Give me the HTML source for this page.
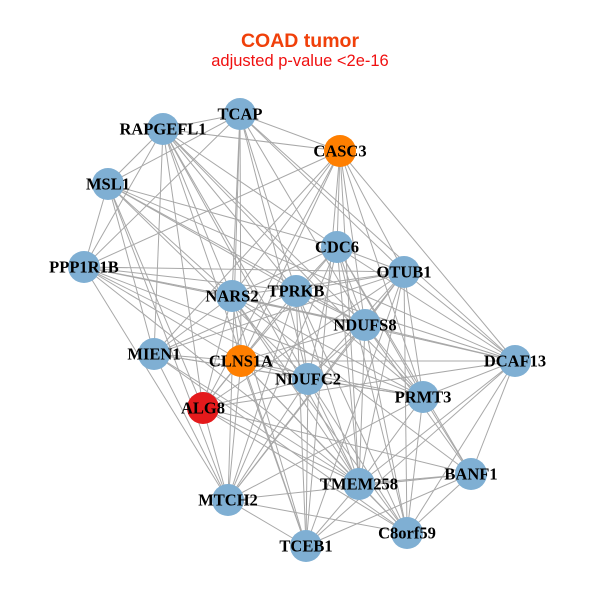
<!DOCTYPE html>
<html><head><style>
body{margin:0;background:#fff;width:600px;height:600px;overflow:hidden}
svg text.l{font-family:"Liberation Serif",serif;font-weight:bold;font-size:16.5px;fill:#000;text-anchor:middle;dominant-baseline:central}
</style></head><body>
<svg id="s" width="600" height="600" viewBox="0 0 600 600" xmlns="http://www.w3.org/2000/svg">
<text x="300" y="47" text-anchor="middle" font-family="Liberation Sans,sans-serif" font-weight="bold" font-size="19.5" fill="#f0400a">COAD tumor</text>
<text x="300" y="66" text-anchor="middle" font-family="Liberation Sans,sans-serif" font-size="16.5" fill="#f01010">adjusted p-value &lt;2e-16</text>
<g id="e" stroke="#a8a8a8" stroke-width="1"></g>
<g id="n"></g>
</svg>
<script>
var N=[["TCAP",240,114,"#7fafd3"],["RAPGEFL1",163,129,"#7fafd3"],["CASC3",340,151,"#ff7f00"],["MSL1",108,184,"#7fafd3"],["PPP1R1B",84,267,"#7fafd3"],["CDC6",337,247,"#7fafd3"],["OTUB1",404,272,"#7fafd3"],["NARS2",232,296,"#7fafd3"],["TPRKB",296,291,"#7fafd3"],["NDUFS8",365,325,"#7fafd3"],["MIEN1",154,354,"#7fafd3"],["CLNS1A",241,361,"#ff7f00"],["DCAF13",515,361,"#7fafd3"],["NDUFC2",308,379,"#7fafd3"],["PRMT3",423,397,"#7fafd3"],["ALG8",203,408,"#e41a1c"],["BANF1",471,474,"#7fafd3"],["TMEM258",359,484,"#7fafd3"],["MTCH2",228,500,"#7fafd3"],["C8orf59",407,533,"#7fafd3"],["TCEB1",306,546,"#7fafd3"]];
var ns="http://www.w3.org/2000/svg",e=document.getElementById("e"),g=document.getElementById("n");
var k=0;
for(var i=0;i<N.length;i++)for(var j=i+1;j<N.length;j++){k++;
var dx=N[i][1]-N[j][1],dy=N[i][2]-N[j][2],d=Math.sqrt(dx*dx+dy*dy);
if(d>330&&(k%3))continue; if(k%5==0)continue;
var l=document.createElementNS(ns,"line");l.setAttribute("x1",N[i][1]);l.setAttribute("y1",N[i][2]);l.setAttribute("x2",N[j][1]);l.setAttribute("y2",N[j][2]);e.appendChild(l);}
N.forEach(function(a){var c=document.createElementNS(ns,"circle");c.setAttribute("cx",a[1]);c.setAttribute("cy",a[2]);c.setAttribute("r",16);c.setAttribute("fill",a[3]);g.appendChild(c);});
N.forEach(function(a){var t=document.createElementNS(ns,"text");t.setAttribute("x",a[1]);t.setAttribute("y",a[2]);t.setAttribute("class","l");t.textContent=a[0];g.appendChild(t);});
</script>
</body></html>
